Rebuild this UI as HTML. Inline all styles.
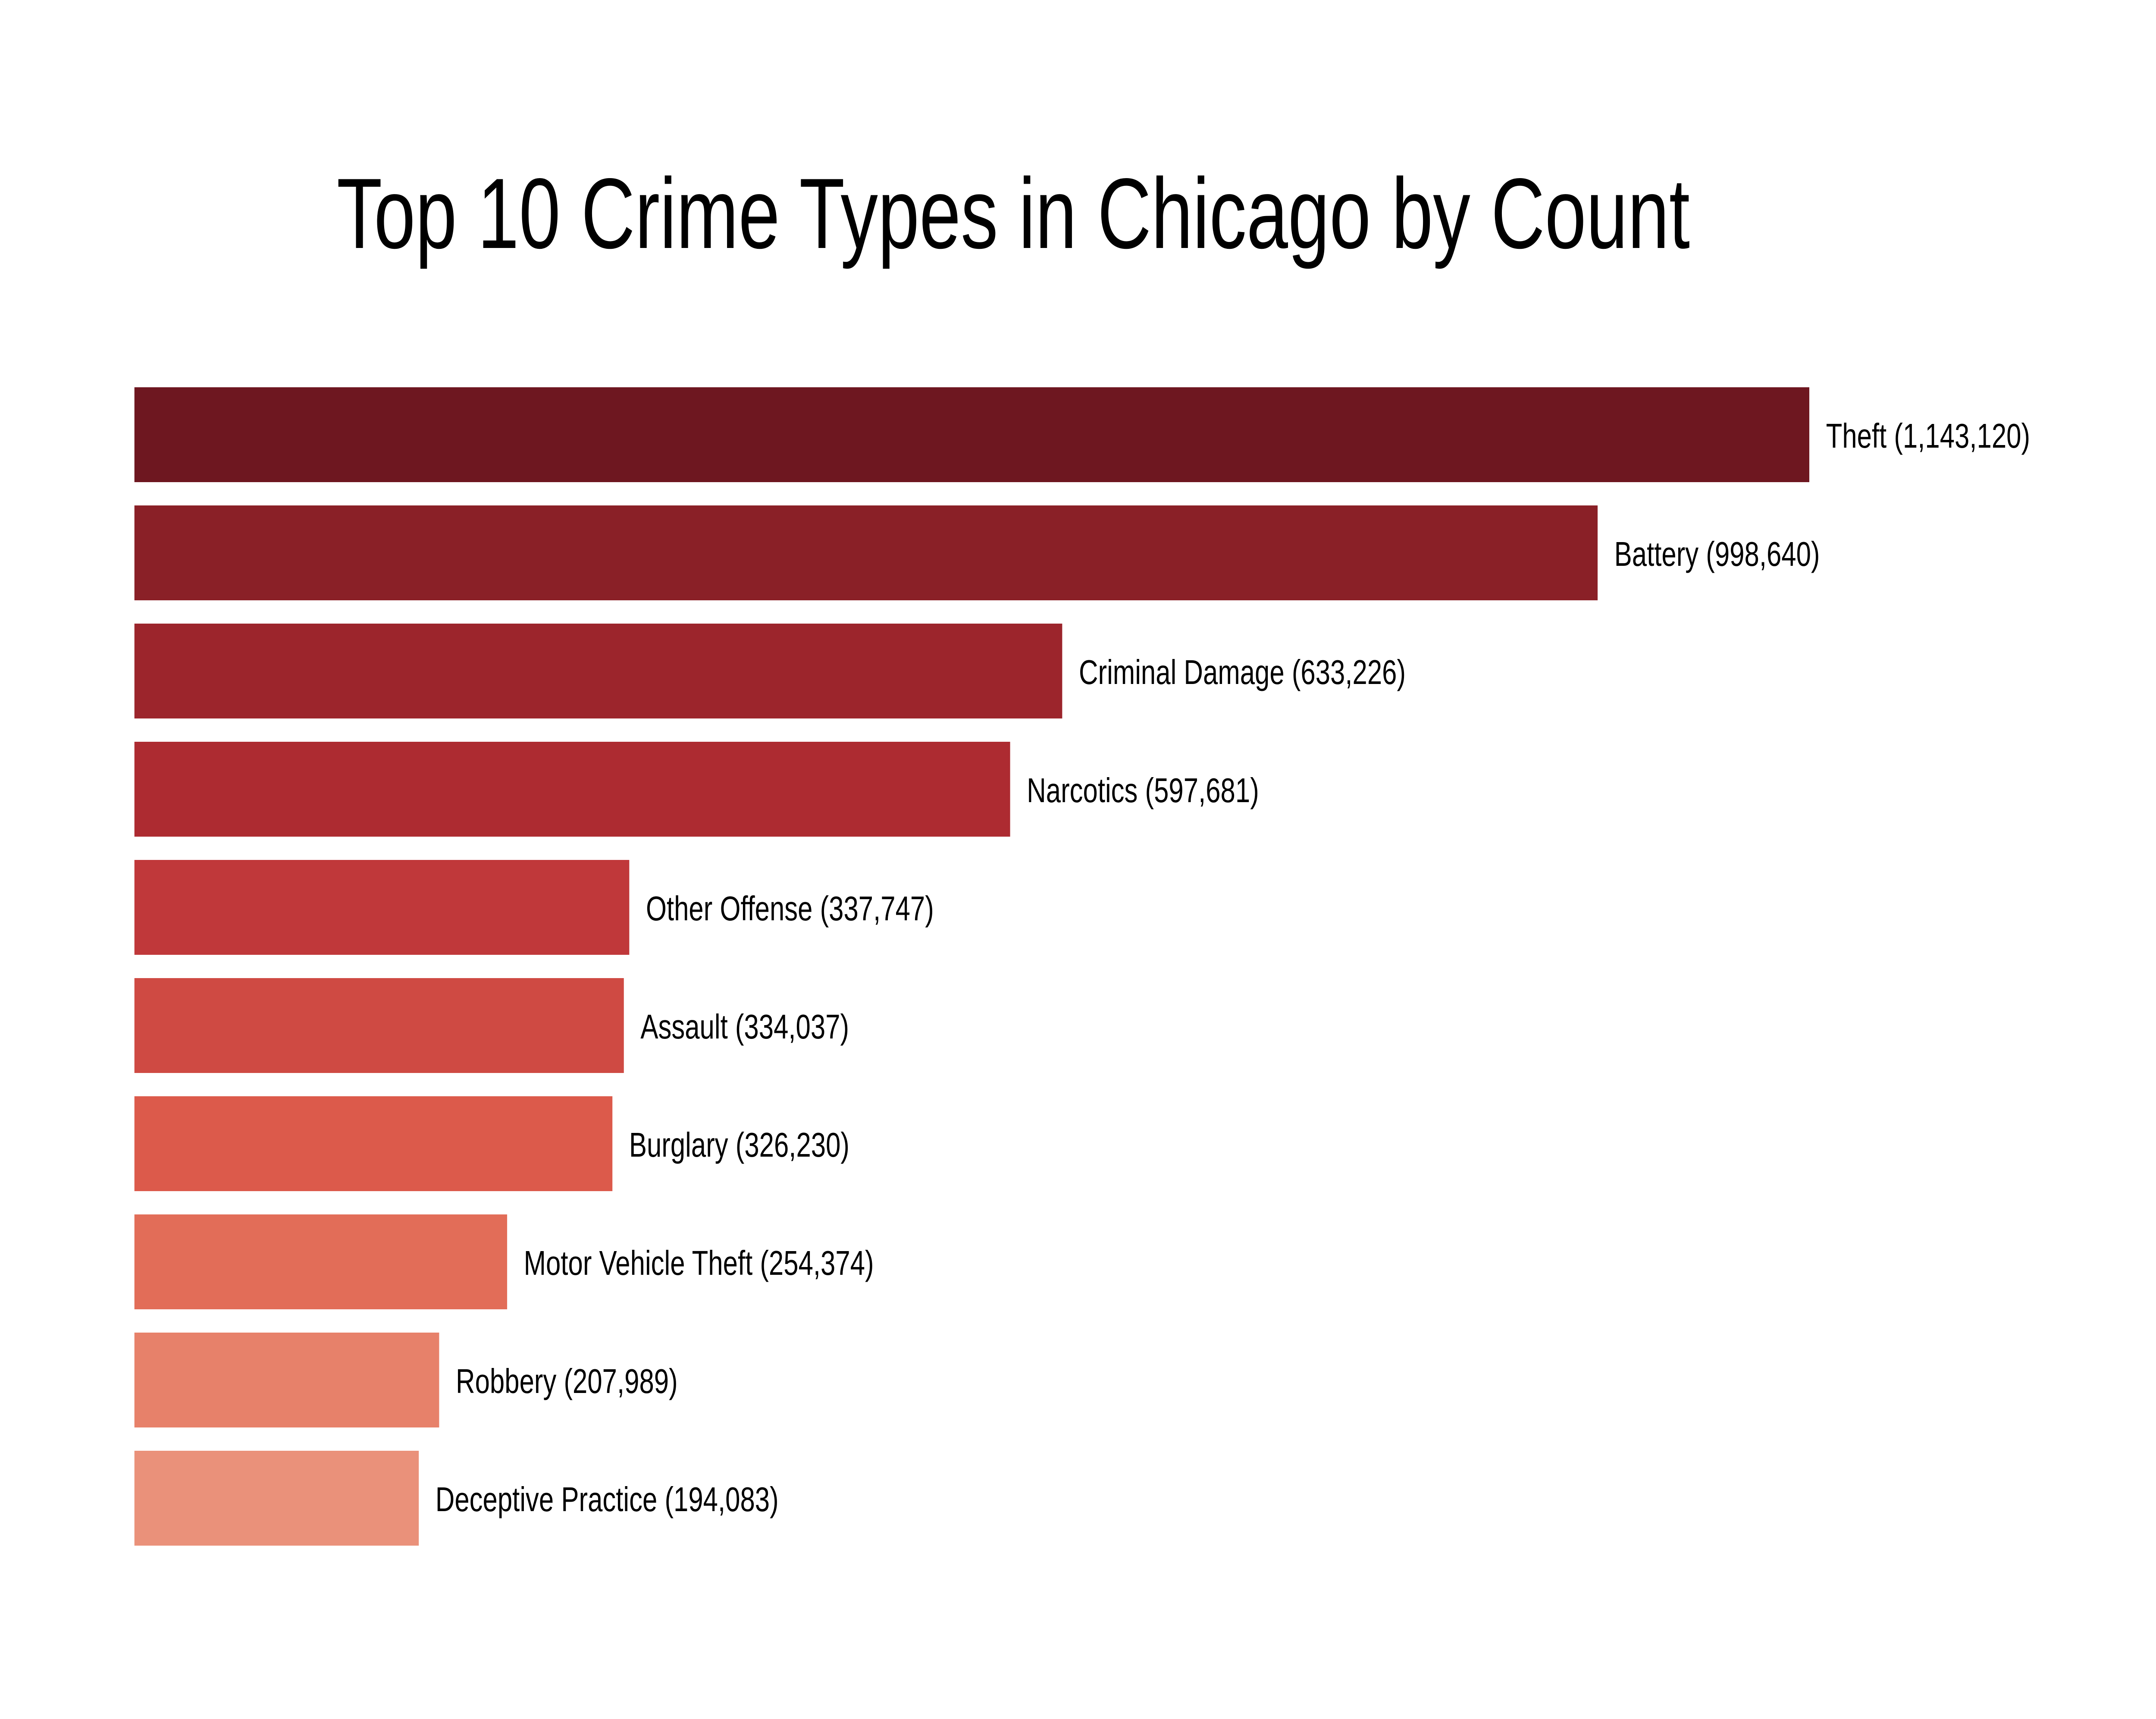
<!DOCTYPE html>
<html><head><meta charset="utf-8"><style>
html,body{margin:0;padding:0;background:#fff;width:100%;height:100%;overflow:hidden;}
svg{display:block;width:100vw;height:100vh;font-family:"Liberation Sans",Arial,sans-serif;}
</style></head><body>
<svg id="chart" viewBox="0 0 6480 3986" preserveAspectRatio="none" xmlns="http://www.w3.org/2000/svg">
<rect width="6480" height="3986" fill="#fff"/>
<text x="1012" y="575" font-size="232" textLength="4067" lengthAdjust="spacingAndGlyphs" fill="#000">Top 10 Crime Types in Chicago by Count</text>
<g id="bars"></g>
</svg>
<script>
const categories = ["Theft","Battery","Criminal Damage","Narcotics","Other Offense","Assault","Burglary","Motor Vehicle Theft","Robbery","Deceptive Practice"];
const counts = [1143120,998640,633226,597681,337747,334037,326230,254374,207989,194083];
const colors = ["#6e1720","#8a2027","#9c252c","#ad2b31","#c0383a","#cf4a43","#dc5a4b","#e26d58","#e7816a","#ea917a"];
const x0 = 404, xScale = 5034 / 1143120;
const yTop = 898, step = 274, barH = 220;
const x = v => x0 + v * xScale;
const y = i => yTop + i * step;
const g = document.getElementById('bars');
const NS = "http://www.w3.org/2000/svg";
categories.forEach((c, i) => {
  const r = document.createElementNS(NS, 'rect');
  
  
  r.setAttribute('x', x0);
  r.setAttribute('y', y(i));
  r.setAttribute('width', x(counts[i]) - x0);
  r.setAttribute('height', barH);
  r.setAttribute('fill', colors[i]);
  g.appendChild(r);
  const t = document.createElementNS(NS, 'text');
  
  
  t.setAttribute('x', x(counts[i]) + 50);
  t.setAttribute('y', y(i) + barH / 2 + 30);
  t.setAttribute('font-size', '80');
  t.setAttribute('fill', '#000');
  t.textContent = c + ' (' + counts[i].toLocaleString('en-US') + ')';
  g.appendChild(t);
});
</script>
</body></html>
